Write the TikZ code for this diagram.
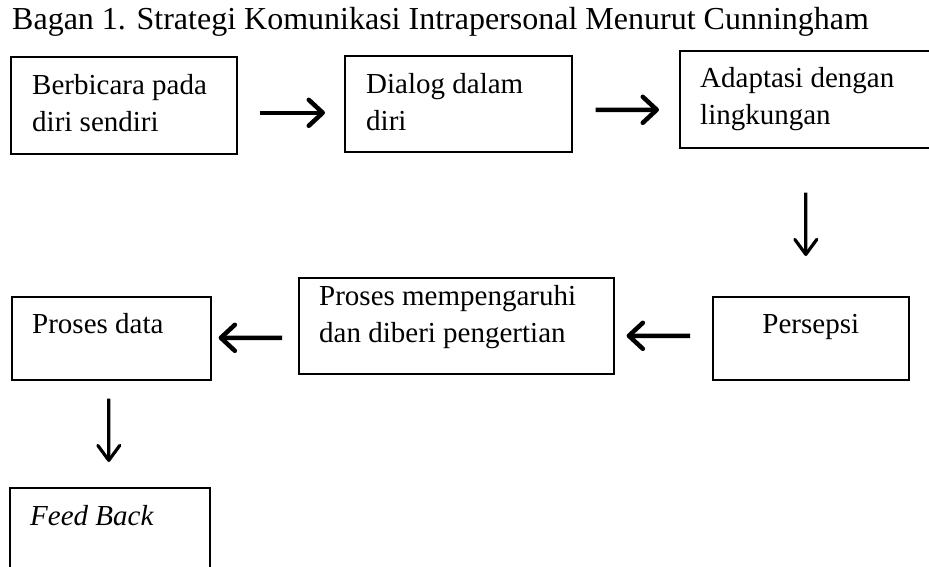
\documentclass[tikz,border=0pt]{standalone}
\usepackage{fontspec}
\setmainfont{Liberation Serif}
\usetikzlibrary{arrows.meta,calc}
\newcommand{\bodyfont}{\fontsize{29bp}{37bp}\selectfont}
\newcommand{\titlefont}{\fontsize{32bp}{37bp}\selectfont}
\tikzset{
  box/.style={draw, line width=1.6bp, inner sep=0pt, anchor=north west},
  txt/.style={anchor=base west, inner sep=0pt, font=\bodyfont},
  harr/.style={line width=4.5bp, -{Straight Barb[round,length=14bp,width=26bp]}},
  varr/.style={line width=3.2bp, -{Straight Barb[round,length=15bp,width=22bp]}}
}
\begin{document}
\begin{tikzpicture}[x=1bp,y=-1bp]
\clip (0,0) rectangle (929,567);
\fill[white] (0,0) rectangle (929,567);

\node[anchor=base west, inner sep=0pt, font=\titlefont] (title) at (12,30) {Bagan 1. Strategi Komunikasi Intrapersonal Menurut Cunningham};

% boxes
\node[box, minimum width=226bp, minimum height=97bp] (b1) at (10,56) {};
\node[box, minimum width=227bp, minimum height=96bp] (b2) at (344,55) {};
\node[box, minimum width=270bp, minimum height=97bp] (b3) at (679,50) {};
\node[box, minimum width=196bp, minimum height=83bp] (b4) at (712,296) {};
\node[box, minimum width=315bp, minimum height=96bp] (b5) at (298,277) {};
\node[box, minimum width=199bp, minimum height=83bp] (b6) at (11,296) {};
\node[box, minimum width=200bp, minimum height=100bp] (b7) at (9,487) {};

% texts
\node[txt] (t1a) at ($(b1.north west)+(22,39)$) {Berbicara pada};
\node[txt] (t1b) at ($(b1.north west)+(22,76)$) {diri sendiri};
\node[txt] (t2a) at ($(b2.north west)+(22,39)$) {Dialog dalam};
\node[txt] (t2b) at ($(b2.north west)+(22,76)$) {diri};
\node[txt] (t3a) at ($(b3.north west)+(21,38)$) {Adaptasi dengan};
\node[txt] (t3b) at ($(b3.north west)+(21,75)$) {lingkungan};
\node[txt, anchor=base] (t4) at ($(b4.north)+(0,37)$) {Persepsi};
\node[txt] (t5a) at ($(b5.north west)+(21,28)$) {Proses mempengaruhi};
\node[txt] (t5b) at ($(b5.north west)+(21,65)$) {dan diberi pengertian};
\node[txt] (t6) at ($(b6.north west)+(21,37)$) {Proses data};
\node[txt] (t7) at ($(b7.north west)+(21,38)$) {\itshape Feed Back};

% arrows
\draw[harr] ([xshift=22bp,yshift=-7.5bp]b1.east) -- ([xshift=-19bp,yshift=-9bp]b2.west);
\draw[harr] ([xshift=23bp,yshift=-6bp]b2.east) -- ([xshift=-20bp,yshift=-10.5bp]b3.west);
\draw[varr] ([xshift=-9bp,yshift=-44bp]b3.south) -- ([xshift=-5bp,yshift=40bp]b4.north);
\draw[harr] ([xshift=-22bp,yshift=2.5bp]b4.west) -- ([xshift=12bp,yshift=-10bp]b5.east);
\draw[harr] ([xshift=-16bp,yshift=-12bp]b5.west) -- ([xshift=7bp,yshift=0.5bp]b6.east);
\draw[varr] ([xshift=-2.5bp,yshift=-18bp]b6.south) -- ([xshift=-1bp,yshift=25bp]b7.north);
\end{tikzpicture}
\end{document}
